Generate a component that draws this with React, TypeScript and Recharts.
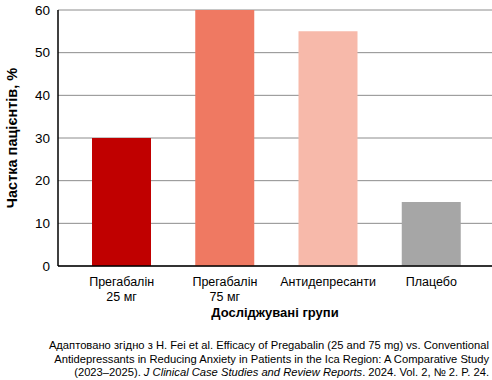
import React from 'react';
import { BarChart, Bar, XAxis, YAxis, CartesianGrid, Cell } from 'recharts';

const groups = ['Прегабалін\n25 мг', 'Прегабалін\n75 мг', 'Антидепресанти', 'Плацебо'];
const shares = [30, 60, 55, 15];
const barColors = ['#c00000', '#ef7962', '#f7b9aa', '#a6a6a6'];
const yTicks = [0, 10, 20, 30, 40, 50, 60];

const data = groups.map((g, i) => ({ group: g, share: shares[i] }));

const FONT = '"Liberation Sans", Arial, Helvetica, sans-serif';

const GroupTick = (props: any) => {
  const { x, y, payload } = props;
  const lines = String(payload.value).split('\n');
  return (
    <g transform={`translate(${x},${y})`}>
      {lines.map((line, i) => (
        <text
          key={i}
          x={0}
          y={0}
          dy={12 + i * 15}
          textAnchor="middle"
          fill="#000"
          fontSize={12.5}
          fontFamily={FONT}
        >
          {line}
        </text>
      ))}
    </g>
  );
};

export default function App() {
  return (
    <div
      style={{
        position: 'absolute',
        left: 0,
        top: 0,
        width: 492,
        height: 380,
        background: '#fff',
        fontFamily: FONT,
        overflow: 'hidden',
      }}
    >
      <BarChart
        width={492}
        height={320}
        data={data}
        margin={{ top: 10, right: 0, left: 0, bottom: 0 }}
        barSize={59}
      >
        <CartesianGrid vertical={false} stroke="#8c8c8c" strokeWidth={1} />
        <XAxis
          dataKey="group"
          height={54}
          interval={0}
          padding={{ left: 12, right: 9 }}
          tick={<GroupTick />}
          tickLine={false}
          axisLine={{ stroke: '#000', strokeWidth: 1.5 }}
        />
        <YAxis
          width={58}
          domain={[0, 60]}
          ticks={yTicks}
          tickLine={false}
          axisLine={{ stroke: '#000', strokeWidth: 1.5 }}
          tick={{ fill: '#000', fontSize: 13.5, fontFamily: FONT }}
        />
        <Bar dataKey="share" isAnimationActive={false}>
          {data.map((d, i) => (
            <Cell key={d.group} fill={barColors[i]} />
          ))}
        </Bar>
      </BarChart>

      {/* назва осі Y */}
      <div
        style={{
          position: 'absolute',
          left: 12,
          top: 138,
          transform: 'translate(-50%, -50%) rotate(-90deg)',
          whiteSpace: 'nowrap',
          fontWeight: 'bold',
          fontSize: 14.5,
        }}
      >
        Частка пацієнтів, %
      </div>

      {/* назва осі X */}
      <div
        style={{
          position: 'absolute',
          left: 58,
          width: 434,
          top: 305,
          textAlign: 'center',
          fontWeight: 'bold',
          fontSize: 13,
          lineHeight: '15px',
        }}
      >
        Досліджувані групи
      </div>

      {/* джерело */}
      <div
        style={{
          position: 'absolute',
          right: 3,
          top: 339,
          width: 460,
          textAlign: 'right',
          fontSize: 11.2,
          lineHeight: '13.5px',
        }}
      >
        Адаптовано згідно з H. Fei et al. Efficacy of Pregabalin (25 and 75 mg) vs. Conventional
        <br />
        Antidepressants in Reducing Anxiety in Patients in the Ica Region: A Comparative Study
        <br />
        (2023–2025). <i>J Clinical Case Studies and Review Reports</i>. 2024. Vol. 2, № 2. P. 24.
      </div>
    </div>
  );
}
